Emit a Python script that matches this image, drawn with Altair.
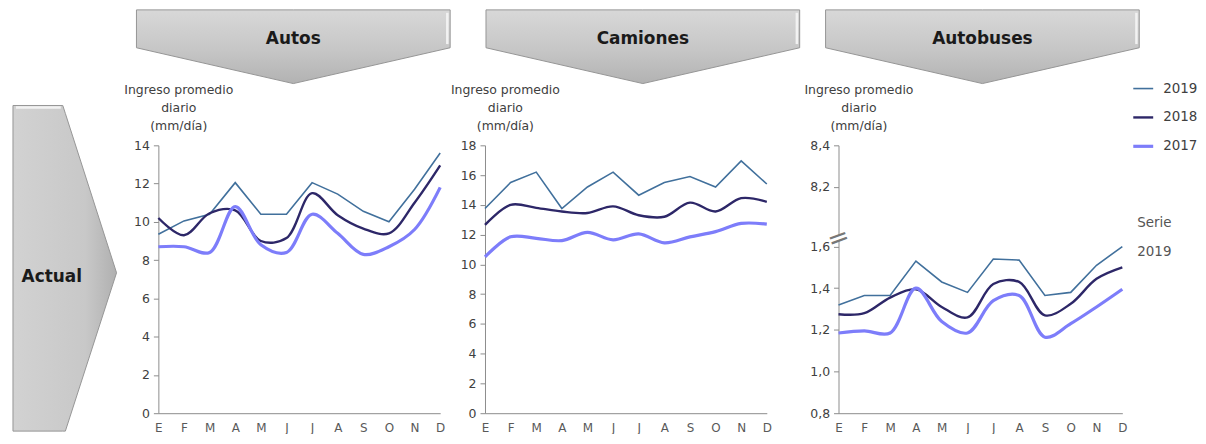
import altair as alt
import pandas as pd

# ---------------- data ----------------
MESES = ["E", "F", "M", "A", "M", "J", "J", "A", "S", "O", "N", "D"]
ANIOS = ["2019", "2018", "2017"]

AUTOS_2019 = [9.35, 10.05, 10.4, 12.05, 10.4, 10.4, 12.05, 11.45, 10.55, 10.0, 11.7, 13.6]
AUTOS_2018 = [10.2, 9.3, 10.45, 10.6, 9.0, 9.15, 11.5, 10.35, 9.65, 9.4, 11.0, 12.95]
AUTOS_2017 = [8.7, 8.7, 8.4, 10.8, 8.8, 8.4, 10.4, 9.4, 8.3, 8.7, 9.6, 11.8]

CAMIONES_2019 = [13.75, 15.5, 16.2, 13.75, 15.2, 16.2, 14.65, 15.5, 15.9, 15.2, 16.95, 15.4]
CAMIONES_2018 = [12.65, 14.0, 13.8, 13.55, 13.45, 13.9, 13.3, 13.2, 14.15, 13.55, 14.45, 14.2]
CAMIONES_2017 = [10.5, 11.85, 11.75, 11.6, 12.15, 11.65, 12.05, 11.45, 11.85, 12.2, 12.75, 12.7]

AUTOBUSES_2019 = [1.32, 1.365, 1.365, 1.53, 1.43, 1.38, 1.54, 1.535, 1.365, 1.38, 1.51, 1.60]
AUTOBUSES_2018 = [1.275, 1.28, 1.355, 1.395, 1.31, 1.26, 1.42, 1.43, 1.27, 1.325, 1.445, 1.50]
AUTOBUSES_2017 = [1.185, 1.195, 1.185, 1.40, 1.24, 1.185, 1.34, 1.365, 1.165, 1.23, 1.31, 1.395]

TITULOS = ["Autos", "Camiones", "Autobuses"]
FILA = "Actual"
Y_TITULO = ["Ingreso promedio", "diario", "(mm/día)"]

AUTOS_TICKS = [0, 2, 4, 6, 8, 10, 12, 14]
CAMIONES_TICKS = [0, 2, 4, 6, 8, 10, 12, 14, 16, 18]
# broken axis for Autobuses: lower part 0.8-1.6, then 8.2 / 8.4 drawn above the break
BUS_TICKS = [0.8, 1.0, 1.2, 1.4, 1.6, 1.886, 2.086]
BUS_TICK_LABELS = ["0,8", "1,0", "1,2", "1,4", "1,6", "8,2", "8,4"]
BUS_BREAK_Y = 1.64
SERIE_TEXTO = ["Serie", "2019"]
SERIE_Y = [1.714, 1.576]

COLORES = ["#41709C", "#2D2768", "#7D7DFA"]
GROSORES = [1.6, 3.2, 2.8]
INTERP = ["linear", "catmull-rom", "catmull-rom"]

FONT = "DejaVu Sans"
PANEL_W, PANEL_H = 283, 269

mes_expr = "[" + ",".join("'%s'" % m for m in MESES) + "][datum.value - 1]"


def bus_label_expr():
    parts = []
    for v, l in zip(BUS_TICKS, BUS_TICK_LABELS):
        parts.append("abs(datum.value - %s) < 0.01 ? '%s' : " % (v, l))
    return "".join(parts) + "''"


gris = alt.LinearGradient(
    gradient="linear",
    stops=[alt.GradientStop(color="#d8d8d8", offset=0),
           alt.GradientStop(color="#c6c6c6", offset=0.55),
           alt.GradientStop(color="#b2b2b2", offset=1)],
    x1=0, x2=0, y1=0, y2=1,
)
gris_h = alt.LinearGradient(
    gradient="linear",
    stops=[alt.GradientStop(color="#d2d2d2", offset=0),
           alt.GradientStop(color="#c8c8c8", offset=0.7),
           alt.GradientStop(color="#b0b0b0", offset=1)],
    x1=0, x2=1, y1=0, y2=0,
)


def panel(series, ydom, yvals, label_expr=None, extras=()):
    rows = []
    for anio, serie in zip(ANIOS, series):
        for i, v in enumerate(serie):
            rows.append({"mes": i + 1, "valor": v, "anio": anio})
    df = pd.DataFrame(rows)
    x = alt.X("mes:Q", scale=alt.Scale(domain=[1, 12], nice=False, zero=False),
              axis=alt.Axis(values=list(range(1, 13)), labelExpr=mes_expr, title=None,
                            ticks=False, labelPadding=9, labelFontSize=12,
                            labelColor="#595959", labelFlush=False))
    yaxis_kw = dict(values=yvals, title=Y_TITULO, titleAngle=0, titleAlign="center",
                    titleBaseline="top", titleX=20, titleY=-62, titleFontSize=12.5,
                    titleFontWeight="normal", titleLineHeight=18, titleColor="#404040",
                    tickSize=5, labelFontSize=12.5, labelColor="#404040", labelPadding=4)
    if label_expr:
        yaxis_kw["labelExpr"] = label_expr
    y = alt.Y("valor:Q", scale=alt.Scale(domain=ydom, nice=False, zero=False),
              axis=alt.Axis(**yaxis_kw))
    color = alt.Color("anio:O", scale=alt.Scale(domain=ANIOS, range=COLORES),
                      legend=alt.Legend(title=None))
    sw = alt.StrokeWidth("anio:O", scale=alt.Scale(domain=ANIOS, range=GROSORES),
                         legend=alt.Legend(title=None))
    layers = []
    for anio, interp in zip(ANIOS, INTERP):
        layers.append(
            alt.Chart(df).transform_filter(alt.datum.anio == anio)
            .mark_line(interpolate=interp)
            .encode(x=x, y=y, color=color, strokeWidth=sw)
        )
    for e in extras:
        layers.extend(e(x, y))
    return alt.layer(*layers).properties(width=PANEL_W, height=PANEL_H)


def bus_break(x, y):
    d = pd.DataFrame({"mes": [1], "valor": [BUS_BREAK_Y], "t": ["="]})
    gap = alt.Chart(d).mark_point(shape="square", filled=True, color="white", opacity=1,
                                  size=40, angle=340).encode(x=x, y=y)
    marks = alt.Chart(d).mark_text(font=FONT, fontSize=26, color="#777777", angle=340,
                                   baseline="middle").encode(x=x, y=y, text="t:N")
    return [gap, marks]


def serie_text(x, y):
    d = pd.DataFrame({"mes": [12, 12], "valor": SERIE_Y, "t": SERIE_TEXTO})
    return [alt.Chart(d).mark_text(font=FONT, fontSize=13.5, color="#555555", align="left",
                                   dx=15).encode(x=x, y=y, text="t:N")]


def spacer(w, h):
    d = pd.DataFrame({"v": [0]})
    return alt.Chart(d).mark_point(opacity=0, size=1).encode(
        x=alt.X("v:Q", axis=None), y=alt.Y("v:Q", axis=None)
    ).properties(width=w, height=h)


CHEV_W, CHEV_H = 315, 74
CHEV_SIDE = 0.514


def chevron(label):
    d = pd.DataFrame({"x": [0, 0.5, 1], "yb": [CHEV_SIDE, 1, CHEV_SIDE], "yt": [0, 0, 0]})
    xs = alt.X("x:Q", scale=alt.Scale(domain=[0, 1], nice=False, zero=False), axis=None)
    ys = alt.Y("yb:Q", scale=alt.Scale(domain=[0, 1], reverse=True, nice=False), axis=None)
    area = alt.Chart(d).mark_area(color=gris, stroke="#959595", strokeWidth=1,
                                  strokeJoin="round").encode(x=xs, y=ys, y2="yt:Q")
    # light bevel on the right edge
    hl = pd.DataFrame({"x": [0.991], "yb": [0.04], "yt": [CHEV_SIDE - 0.05]})
    bevel = alt.Chart(hl).mark_rule(color="#f2f2f2", strokeWidth=2.5).encode(
        x=alt.X("x:Q", axis=None), y=alt.Y("yb:Q", axis=None), y2="yt:Q")
    t = pd.DataFrame({"x": [0.5], "yb": [0.40], "t": [label]})
    txt = alt.Chart(t).mark_text(font=FONT, fontSize=17, fontWeight="bold",
                                 color="#1a1a1a").encode(
        x=alt.X("x:Q", axis=None), y=alt.Y("yb:Q", axis=None), text="t:N")
    return alt.layer(area, bevel, txt).properties(width=CHEV_W, height=CHEV_H)


ARROW_W, ARROW_H = 104, 423


def arrow(label):
    d = pd.DataFrame({"x": [0, 50, 52.6, 104],
                      "top": [96, 96, 104, 264],
                      "bot": [423, 423, 423, 264]})
    xs = alt.X("x:Q", scale=alt.Scale(domain=[0, ARROW_W], nice=False, zero=False), axis=None)
    ys = alt.Y("top:Q", scale=alt.Scale(domain=[0, ARROW_H], reverse=True, nice=False), axis=None)
    area = alt.Chart(d).mark_area(color=gris_h, stroke="#959595", strokeWidth=1,
                                  strokeJoin="round").encode(x=xs, y=ys, y2="bot:Q")
    hl = pd.DataFrame({"x": [3], "x2": [48], "top": [98]})
    bevel = alt.Chart(hl).mark_rule(color="#f2f2f2", strokeWidth=2.5).encode(
        x=alt.X("x:Q", axis=None), x2="x2:Q", y=alt.Y("top:Q", axis=None))
    t = pd.DataFrame({"x": [39], "top": [268], "t": [label]})
    txt = alt.Chart(t).mark_text(font=FONT, fontSize=17, fontWeight="bold",
                                 color="#1a1a1a").encode(
        x=alt.X("x:Q", axis=None), y=alt.Y("top:Q", axis=None), text="t:N")
    return alt.layer(area, bevel, txt).properties(width=ARROW_W, height=ARROW_H)


p1 = panel([AUTOS_2019, AUTOS_2018, AUTOS_2017], [0, 14], AUTOS_TICKS)
p2 = panel([CAMIONES_2019, CAMIONES_2018, CAMIONES_2017], [0, 18], CAMIONES_TICKS)
p3 = panel([AUTOBUSES_2019, AUTOBUSES_2018, AUTOBUSES_2017], [0.8, 2.086], BUS_TICKS,
           label_expr=bus_label_expr(), extras=(bus_break, serie_text)).properties(width=285)

header = alt.hconcat(chevron(TITULOS[0]), spacer(36, CHEV_H), chevron(TITULOS[1]),
                     spacer(26, CHEV_H), chevron(TITULOS[2]), spacing=0, bounds="flush")
panels_row = alt.hconcat(spacer(22, PANEL_H), p1, spacer(45, PANEL_H), p2,
                         spacer(72, PANEL_H), p3, spacing=0, bounds="flush")
# nested flush groups count as zero-height, so the spacing covers header height + gap
right_block = alt.vconcat(header, panels_row, spacing=136, bounds="flush")

chart = alt.hconcat(
    arrow(FILA), right_block, spacing=20, bounds="flush",
    padding={"left": 4, "top": 0, "right": 0, "bottom": 0},
).resolve_scale(color="shared", strokeWidth="shared").configure_view(
    stroke=None
).configure_axis(
    labelFont=FONT, titleFont=FONT, grid=False, domainColor="#8c8c8c",
    tickColor="#8c8c8c", domainWidth=1
).configure_legend(
    orient="none", legendX=1123, legendY=68, symbolType="stroke", symbolSize=400,
    labelFont=FONT, labelFontSize=13.5, labelColor="#404040", rowPadding=10.5,
    labelOffset=8
)

chart.save("out.html", embed_options={"renderer": "svg", "actions": False})
